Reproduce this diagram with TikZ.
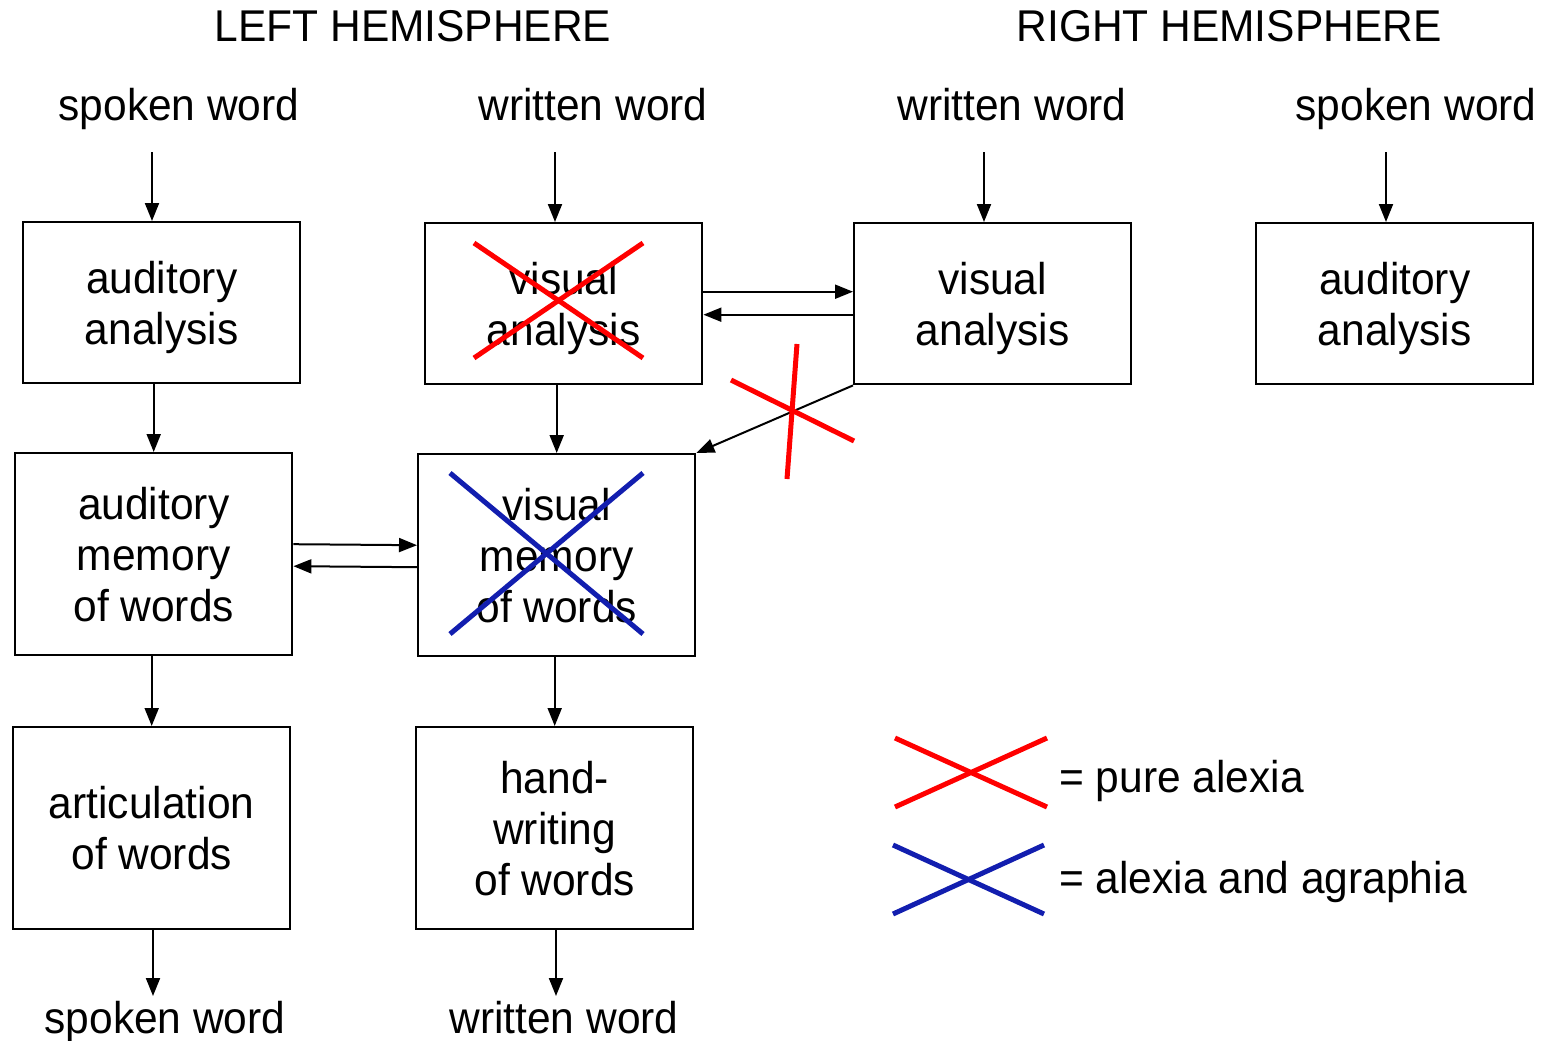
\documentclass[tikz,border=0pt]{standalone}
\usepackage{fontspec}
\setmainfont{Liberation Sans}[FakeStretch=0.955]
\usetikzlibrary{arrows.meta}
\definecolor{lesionred}{RGB}{255,0,0}
\definecolor{lesionblue}{RGB}{18,30,175}
% taller first line, pushes the text of the short boxes slightly down
\newcommand\firstlinestrut{\rule{0pt}{41pt}}
\tikzset{
  lbl/.style={font=\fontsize{44.5}{51}\selectfont, inner sep=0pt, anchor=base},
  stage/.style={draw, line width=2.4pt, inner sep=0pt, align=center,
    minimum width=277pt, anchor=north west,
    font=\fontsize{44.5}{51}\selectfont},
  shortbox/.style={stage, minimum height=161pt},
  tallbox/.style={stage, minimum height=202pt},
  arr/.style={line width=2pt, -{Triangle[length=18pt,width=14pt]}},
  redx/.style={lesionred, line width=5pt},
  bluex/.style={lesionblue, line width=5pt},
}
\begin{document}
\begin{tikzpicture}[x=1pt,y=-1pt]
\useasboundingbox (0,0) rectangle (1550,1041);

% hemisphere headings
\node[lbl] (lh) at (413,42) {LEFT HEMISPHERE};
\node[lbl] (rh) at (1229,42) {RIGHT HEMISPHERE};

% inputs
\node[lbl] (in1) at (179,120) {spoken word};
\node[lbl] (in2) at (593,120) {written word};
\node[lbl] (in3) at (1012,120) {written word};
\node[lbl] (in4) at (1416,120) {spoken word};

% processing stages
\node[shortbox] (aaL) at (22,221) {\firstlinestrut auditory\\ analysis};
\node[shortbox] (vaL) at (424,222) {\firstlinestrut visual\\ analysis};
\node[shortbox] (vaR) at (853,222) {\firstlinestrut visual\\ analysis};
\node[shortbox] (aaR) at (1255,222) {\firstlinestrut auditory\\ analysis};
\node[tallbox] (amL) at (14,452) {auditory\\ memory\\ of words};
\node[tallbox] (vmL) at (417,453) {visual\\ memory\\ of words};
\node[tallbox] (art) at (12,726) {articulation\\ of words};
\node[tallbox] (hw) at (415,726) {hand-\\ writing\\ of words};

% outputs
\node[lbl] (out1) at (165,1033) {spoken word};
\node[lbl] (out2) at (564,1033) {written word};

% arrow start/end points
\coordinate (s1) at (152,152);
\coordinate (s2) at (555,152);
\coordinate (s3) at (984,152);
\coordinate (s4) at (1386,152);
\coordinate (e1) at (153,996);
\coordinate (e2) at (556,996);

% input arrows
\draw[arr] (s1) -- (s1 |- aaL.north);
\draw[arr] (s2) -- (s2 |- vaL.north);
\draw[arr] (s3) -- (s3 |- vaR.north);
\draw[arr] (s4) -- (s4 |- aaR.north);

% vertical flow
\draw[arr] (aaL.south -| amL.north) -- (amL.north);
\draw[arr] (vaL.south -| vmL.north) -- (vmL.north);
\draw[arr] (amL.south -| art.north) -- (art.north);
\draw[arr] (vmL.south -| hw.north) -- (hw.north);
\draw[arr] (art.south -| e1) -- (e1);
\draw[arr] (hw.south -| e2) -- (e2);

% interhemispheric links
\draw[arr] ([yshift=12pt]vaL.east) -- ([yshift=12pt]vaR.west);
\draw[arr] ([yshift=-11pt]vaR.west) -- ([yshift=-11pt]vaL.east);
\draw[arr] (vaR.south west) -- (vmL.north east);

% links between the memories
\draw[arr] ([yshift=10pt]amL.east) -- ([yshift=10pt]vmL.west);
\draw[arr] ([yshift=-12pt]vmL.west) -- ([yshift=-12pt]amL.east);

% lesion marks
\draw[redx] (474,243) -- (643,358);
\draw[redx] (474,358) -- (643,243);
\draw[redx] (797,344) -- (787,479);
\draw[redx] (731,380) -- (854,441);
\draw[bluex] (450,473) -- (643,634);
\draw[bluex] (450,634) -- (643,473);

% legend
\draw[redx] (895,738) -- (1047,807);
\draw[redx] (895,807) -- (1047,738);
\draw[bluex] (893,845) -- (1044,914);
\draw[bluex] (893,914) -- (1044,845);
\node[lbl, anchor=base west] (leg1) at (1059,792) {= pure alexia};
\node[lbl, anchor=base west] (leg2) at (1059,893) {= alexia and agraphia};
\end{tikzpicture}
\end{document}
